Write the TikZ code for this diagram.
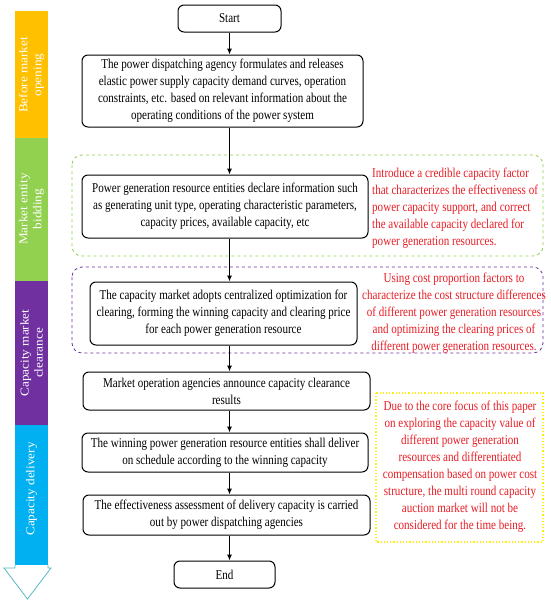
\documentclass[tikz,border=0pt]{standalone}
\usepackage{fontspec}
\setmainfont{Liberation Serif}[FakeStretch=0.82]
\newfontfamily\bandfont{Liberation Serif}[FakeStretch=1.1]
\usetikzlibrary{arrows.meta}
\definecolor{bandorange}{RGB}{255,192,0}
\definecolor{bandgreen}{RGB}{146,208,80}
\definecolor{bandpurple}{RGB}{112,48,160}
\definecolor{bandblue}{RGB}{0,176,240}
\definecolor{headteal}{RGB}{91,183,194}
\definecolor{notered}{RGB}{232,28,36}
\definecolor{framegreen}{RGB}{146,208,80}
\definecolor{framepurple}{RGB}{112,48,160}
\definecolor{frameyellow}{RGB}{255,240,0}

\begin{document}
\fontsize{13.5}{17}\selectfont
\begin{tikzpicture}[x=1pt,y=-1pt,
  stepbox/.style={draw,line width=1pt,rounded corners=6pt,align=center,inner sep=1pt},
  note/.style={text=notered,inner sep=0pt},
  flow/.style={-{Latex[length=6pt,width=5pt]},line width=1pt},
  bandtext/.style={rotate=90,text=white,align=center,inner sep=0pt,
    font=\bandfont\fontsize{12}{14}\selectfont}]
\useasboundingbox (0,0) rectangle (550,605);
%% the phase bar
\fill[bandorange](15,11) rectangle (48,138);
\fill[bandgreen](15,138) rectangle (48,281);
\fill[bandpurple](15,281) rectangle (48,425);
\fill[bandblue](15,425) rectangle (48,565);
\draw[headteal,line width=0.8pt](15,565)--(15,568)--(4,568)--(27.5,599)--(51,568)--(48,568)--(48,565);
\node[bandtext] (opening) at (31.5,75) {Before market\\opening};
\node[bandtext] (bidding) at (31.5,209) {Market entity\\bidding};
\node[bandtext] (clearance) at (31.5,353) {Capacity market\\clearance};
\node[bandtext] (delivery) at (31.5,489) {Capacity delivery};
%% the frames
\draw[framegreen,dashed,line width=0.8pt,rounded corners=10pt](72,155) rectangle (543,256);
\draw[framepurple,dashed,line width=0.8pt,rounded corners=10pt](72,267) rectangle (543,353);
\draw[frameyellow,dotted,line width=1.2pt](376,393) rectangle (543,542);
%% the steps
\node[stepbox,minimum width=103pt,minimum height=27pt] (start) at (229.5,18.5) {Start};
\node[stepbox,minimum width=281pt,minimum height=72pt] (dispatch) at (222.5,91)
  {The power dispatching agency formulates and releases\\elastic power supply capacity demand curves, operation\\constraints, etc. based on relevant information about the\\operating conditions of the power system};
\node[stepbox,minimum width=286pt,minimum height=63pt] (declare) at (225,206.5)
  {Power generation resource entities declare information such\\as generating unit type, operating characteristic parameters,\\capacity prices, available capacity, etc};
\node[stepbox,minimum width=267pt,minimum height=63pt] (clearing) at (223.5,313.5)
  {The capacity market adopts centralized optimization for\\clearing, forming the winning capacity and clearing price\\for each power generation resource};
\node[stepbox,minimum width=287pt,minimum height=38pt] (announce) at (226.5,391)
  {Market operation agencies announce capacity clearance\\results};
\node[stepbox,minimum width=286pt,minimum height=39pt] (deliver) at (225,452.5)
  {The winning power generation resource entities shall deliver\\on schedule according to the winning capacity};
\node[stepbox,minimum width=287pt,minimum height=40pt] (assess) at (226.5,515)
  {The effectiveness assessment of delivery capacity is carried\\out by power dispatching agencies};
\node[stepbox,minimum width=101pt,minimum height=27pt] (end) at (224.5,574.5) {End};
%% the notes
\node[note,anchor=west,align=left] (factor) at (372,208)
  {Introduce a credible capacity factor\\that characterizes the effectiveness of\\power capacity support, and correct\\the available capacity declared for\\power generation resources.};
\node[note,align=center] (proportion) at (454,313)
  {Using cost proportion factors to\\characterize the cost structure differences\\of different power generation resources\\and optimizing the clearing prices of\\different power generation resources.};
\node[note,align=center] (focus) at (460,467)
  {Due to the core focus of this paper\\on exploring the capacity value of\\different power generation\\resources and differentiated\\compensation based on power cost\\structure, the multi round capacity\\auction market will not be\\considered for the time being.};
%% the arrows
\draw[flow](start.south)--(start.south |- dispatch.north);
\draw[flow](start.south |- dispatch.south)--(start.south |- declare.north);
\draw[flow](start.south |- declare.south)--(start.south |- clearing.north);
\draw[flow](start.south |- clearing.south)--(start.south |- announce.north);
\draw[flow](start.south |- announce.south)--(start.south |- deliver.north);
\draw[flow](start.south |- deliver.south)--(start.south |- assess.north);
\draw[flow](start.south |- assess.south)--(start.south |- end.north);
\end{tikzpicture}
\end{document}
